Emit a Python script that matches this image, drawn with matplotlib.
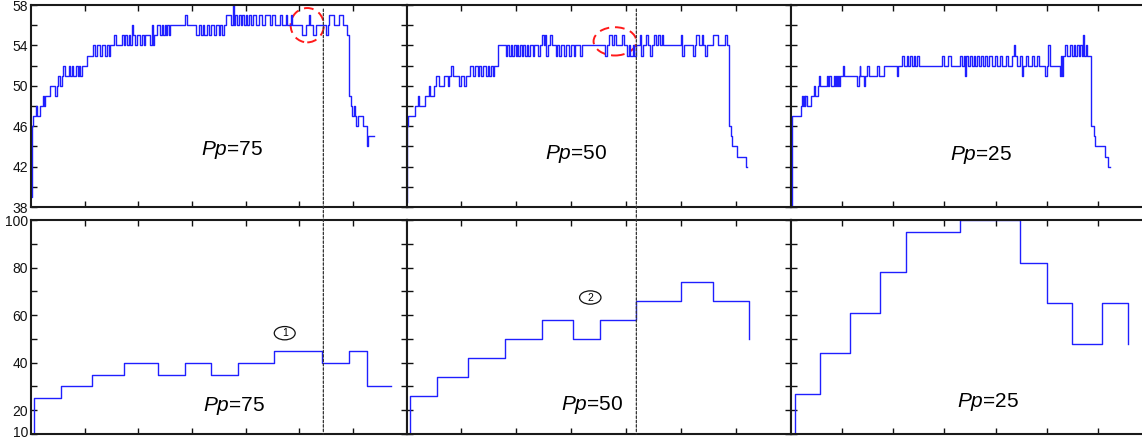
import matplotlib
matplotlib.use("Agg")
import matplotlib.pyplot as plt
import matplotlib.transforms as mtransforms
from matplotlib.patches import Ellipse, ConnectionPatch

plt.rcParams['font.family'] = ['Liberation Sans', 'DejaVu Sans']
plt.rcParams['mathtext.fontset'] = 'custom'
plt.rcParams['mathtext.rm'] = 'Liberation Sans'
plt.rcParams['mathtext.it'] = 'Liberation Sans:italic'

# top row: temperature-like traces (step changes: time, value)
t75_top = [0.00, 0.02, 0.04, 0.09, 0.12, 0.17, 0.23, 0.25, 0.26, 0.36, 0.45, 0.48, 0.51, 0.54, 0.57,
           0.60, 0.64, 0.70, 0.73, 0.76, 0.79, 0.84, 0.87, 0.90, 0.92, 0.95, 1.04, 1.15, 1.20, 1.23,
           1.29, 1.32, 1.38, 1.41, 1.45, 1.48, 1.55, 1.58, 1.70, 1.73, 1.76, 1.79, 1.82, 1.85, 1.88,
           1.90, 1.94, 1.98, 2.04, 2.07, 2.10, 2.13, 2.22, 2.25, 2.27, 2.29, 2.35, 2.41, 2.44, 2.47,
           2.50, 2.52, 2.54, 2.57, 2.60, 2.88, 2.91, 3.07, 3.13, 3.16, 3.20, 3.23, 3.28, 3.32, 3.35,
           3.41, 3.44, 3.50, 3.53, 3.56, 3.60, 3.63, 3.72, 3.76, 3.78, 3.81, 3.84, 3.88, 3.91, 3.94,
           3.97, 4.00, 4.03, 4.06, 4.10, 4.13, 4.20, 4.25, 4.31, 4.36, 4.45, 4.50, 4.55, 4.65, 4.68,
           4.75, 4.78, 4.84, 4.87, 5.06, 5.12, 5.18, 5.20, 5.25, 5.31, 5.50, 5.53, 5.56, 5.65, 5.74,
           5.81, 5.90, 5.93, 5.96, 5.99, 6.02, 6.04, 6.06, 6.09, 6.18, 6.27, 6.29, 6.40]
v75_top = [39, 46, 47, 48, 47, 48, 49, 48, 49, 50, 49, 50, 51, 50, 51,
           52, 51, 52, 51, 52, 51, 52, 51, 52, 51, 52, 53, 54, 53, 54,
           53, 54, 53, 54, 53, 54, 55, 54, 55, 54, 55, 54, 55, 54, 56,
           55, 54, 55, 54, 55, 54, 55, 54, 56, 54, 55, 56, 55, 56, 55,
           56, 55, 56, 55, 56, 57, 56, 55, 56, 55, 56, 55, 56, 55, 56,
           55, 56, 55, 56, 55, 56, 57, 56, 58, 56, 57, 56, 57, 56, 57,
           56, 57, 56, 57, 56, 57, 56, 57, 56, 57, 56, 57, 56, 57, 56,
           57, 56, 57, 56, 55, 56, 57, 56, 55, 56, 55, 56, 57, 56, 57,
           56, 55, 49, 48, 47, 48, 47, 46, 47, 46, 44, 45, 45]

t50_top = [0.00, 0.01, 0.02, 0.15, 0.21, 0.23, 0.33, 0.41, 0.43, 0.51, 0.54, 0.60, 0.69, 0.75, 0.78,
           0.81, 0.84, 0.96, 0.99, 1.05, 1.08, 1.15, 1.21, 1.24, 1.30, 1.33, 1.36, 1.39, 1.45, 1.48,
           1.51, 1.54, 1.57, 1.60, 1.66, 1.81, 1.84, 1.87, 1.90, 1.93, 1.96, 1.99, 2.02, 2.04, 2.07,
           2.10, 2.13, 2.16, 2.19, 2.22, 2.25, 2.30, 2.33, 2.40, 2.43, 2.47, 2.50, 2.52, 2.55, 2.58,
           2.62, 2.66, 2.72, 2.75, 2.78, 2.82, 2.88, 2.90, 2.97, 3.00, 3.05, 3.08, 3.17, 3.20, 3.62,
           3.65, 3.70, 3.75, 3.78, 3.82, 3.93, 3.96, 4.02, 4.05, 4.08, 4.12, 4.14, 4.18, 4.25, 4.28,
           4.32, 4.36, 4.40, 4.44, 4.47, 4.52, 4.55, 4.58, 4.62, 4.65, 4.68, 5.00, 5.03, 5.06, 5.23,
           5.26, 5.28, 5.33, 5.38, 5.40, 5.45, 5.48, 5.58, 5.68, 5.80, 5.84, 5.88, 5.92, 5.94, 6.02,
           6.18, 6.21]
v50_top = [38.5, 46, 47, 48, 49, 48, 49, 50, 49, 50, 51, 50, 51, 50, 51,
           52, 51, 50, 51, 50, 51, 52, 51, 52, 51, 52, 51, 52, 51, 52,
           51, 52, 51, 52, 54, 53, 54, 53, 54, 53, 54, 53, 54, 53, 54,
           53, 54, 53, 54, 53, 54, 53, 54, 53, 54, 55, 54, 55, 53, 54,
           55, 54, 53, 54, 53, 54, 53, 54, 53, 54, 53, 54, 53, 54, 53,
           54, 55, 54, 55, 54, 55, 54, 53, 54, 53, 54, 53, 54, 55, 53,
           54, 55, 54, 53, 54, 55, 54, 55, 54, 55, 54, 55, 53, 54, 53,
           54, 55, 54, 55, 54, 53, 54, 55, 54, 55, 54, 46, 45, 44, 43,
           42, 42]

t25_top = [0.00, 0.02, 0.03, 0.21, 0.23, 0.25, 0.26, 0.28, 0.29, 0.32, 0.39, 0.45, 0.47, 0.53, 0.55,
           0.58, 0.71, 0.74, 0.76, 0.78, 0.84, 0.86, 0.88, 0.90, 0.92, 0.94, 0.96, 1.03, 1.04, 1.30,
           1.33, 1.35, 1.36, 1.43, 1.46, 1.49, 1.53, 1.69, 1.72, 1.82, 2.08, 2.10, 2.18, 2.21, 2.27,
           2.30, 2.33, 2.37, 2.40, 2.43, 2.47, 2.50, 2.95, 2.99, 3.08, 3.12, 3.31, 3.35, 3.38, 3.41,
           3.43, 3.47, 3.50, 3.53, 3.57, 3.60, 3.64, 3.67, 3.72, 3.75, 3.80, 3.83, 3.88, 3.92, 3.98,
           4.02, 4.08, 4.12, 4.20, 4.24, 4.32, 4.35, 4.38, 4.42, 4.48, 4.52, 4.54, 4.60, 4.64, 4.70,
           4.74, 4.80, 4.84, 4.97, 5.00, 5.03, 5.06, 5.26, 5.28, 5.30, 5.32, 5.36, 5.40, 5.45, 5.48,
           5.52, 5.55, 5.58, 5.62, 5.65, 5.68, 5.71, 5.73, 5.76, 5.78, 5.85, 5.91, 5.94, 6.14, 6.20,
           6.23]
v25_top = [38, 46, 47, 48, 49, 48, 49, 48, 49, 48, 49, 50, 49, 50, 51,
           50, 51, 50, 51, 50, 51, 50, 51, 50, 51, 50, 51, 52, 51, 50,
           51, 52, 51, 50, 51, 52, 51, 52, 51, 52, 51, 52, 53, 52, 53,
           52, 53, 52, 53, 52, 53, 52, 53, 52, 53, 52, 53, 52, 53, 51,
           53, 52, 53, 52, 53, 52, 53, 52, 53, 52, 53, 52, 53, 52, 53,
           52, 53, 52, 53, 52, 53, 54, 53, 52, 53, 51, 52, 53, 52, 53,
           52, 53, 52, 51, 52, 54, 52, 51, 53, 51, 53, 54, 53, 54, 53,
           54, 53, 54, 53, 54, 53, 55, 53, 54, 53, 46, 45, 44, 43, 42,
           42]

# bottom row: stepwise setting
t75_bot = [0.00, 0.06, 0.55, 1.13, 1.73, 2.36, 2.87, 3.36, 3.86, 4.53, 5.43, 5.92, 6.27, 6.71]
v75_bot = [10, 25, 30, 35, 40, 35, 40, 35, 40, 45, 40, 45, 30, 30]
t50_bot = [0.00, 0.07, 0.56, 1.13, 1.80, 2.47, 3.04, 3.52, 4.19, 5.01, 5.58, 6.25]
v50_bot = [10, 26, 34, 42, 50, 58, 50, 58, 66, 74, 66, 50]
t25_bot = [0.00, 0.08, 0.58, 1.16, 1.74, 2.25, 3.30, 4.48, 5.00, 5.49, 6.07, 6.58]
v25_bot = [10, 27, 44, 61, 78, 95, 100, 82, 65, 48, 65, 48]

labels = ["75", "50", "25"]
top_series = [(t75_top, v75_top), (t50_top, v50_top), (t25_top, v25_top)]
bot_series = [(t75_bot, v75_bot), (t50_bot, v50_bot), (t25_bot, v25_bot)]
label_pos_top = [(3.74, 43.6), (3.09, 43.2), (3.72, 43.1)]
label_pos_bot = [(3.79, 21.7), (3.38, 22.4), (3.86, 23.4)]
marker_lines = [5.45, 4.19]
red_rings = [(5.15, 56.0, 0.62, 3.4), (3.80, 54.4, 0.78, 2.8)]
circled = [("1", 4.73, 52.4), ("2", 3.35, 67.4)]

W, H = 1142, 440
fig = plt.figure(figsize=(W / 100, H / 100), dpi=100)
cols = [(31, 375.5), (406.5, 384), (790.5, 359)]
top_row = (5, 207)
bot_row = (220, 434)

line_color = '#1f1fff'

def style(ax, yt, ylabels, show):
    ax.set_xlim(0, 7)
    ax.set_xticks(range(1, 7))
    ax.set_xticklabels([])
    ax.set_yticks(yt)
    if show:
        ax.set_yticklabels(ylabels)
    else:
        ax.set_yticklabels([])
    ax.tick_params(direction='in', top=True, right=True, length=4, width=1,
                   labelsize=10, pad=2, colors='#111111')
    for s in ax.spines.values():
        s.set_linewidth(1.5)
        s.set_color('#1a1a1a')

tops, bots = [], []
for i, (x0, w) in enumerate(cols):
    axt = fig.add_axes([x0 / W, (H - top_row[1]) / H, w / W, (top_row[1] - top_row[0]) / H])
    axb = fig.add_axes([x0 / W, (H - bot_row[1]) / H, w / W, (bot_row[1] - bot_row[0]) / H])

    t, v = top_series[i]
    axt.step(t, v, where='post', color=line_color, lw=1)
    axt.set_ylim(38, 58)
    yt = list(range(38, 59, 2))
    style(axt, yt, [str(y) if (y - 38) % 4 == 0 else '' for y in yt], i == 0)
    axt.text(*label_pos_top[i], r"$Pp$=" + labels[i], fontsize=15, ha='center', va='center')

    t, v = bot_series[i]
    axb.step(t, v, where='post', color=line_color, lw=1)
    axb.set_ylim(10, 100)
    yt = list(range(10, 101, 10))
    style(axb, yt, [str(y) if y in (10, 20, 40, 60, 80, 100) else '' for y in yt], i == 0)
    axb.text(*label_pos_bot[i], r"$Pp$=" + labels[i], fontsize=15, ha='center', va='center')

    tops.append(axt)
    bots.append(axb)

# nudge the bottom "10" label up a little so it stays inside the image
lbl10 = bots[0].get_yticklabels()[0]
lbl10.set_transform(lbl10.get_transform() +
                    mtransforms.ScaledTranslation(0, 3 / 100, fig.dpi_scale_trans))

for i, xm in enumerate(marker_lines):
    con = ConnectionPatch(xyA=(xm, 57.6), coordsA=tops[i].transData,
                          xyB=(xm, 10), coordsB=bots[i].transData,
                          color='#333333', lw=0.9, linestyle=(0, (2, 1.5)))
    fig.add_artist(con)

for i, (cx, cy, w, h) in enumerate(red_rings):
    tops[i].add_patch(Ellipse((cx, cy), w, h, fill=False, edgecolor='#ff1a1a',
                              lw=1.4, linestyle=(0, (5, 3))))

for i, (s, cx, cy) in enumerate(circled):
    bots[i].add_patch(Ellipse((cx, cy), 0.39, 5.6, fill=False, edgecolor='#111111', lw=0.9))
    bots[i].text(cx, cy, s, fontsize=7.5, ha='center', va='center')

fig.savefig("out.png", dpi=100)
